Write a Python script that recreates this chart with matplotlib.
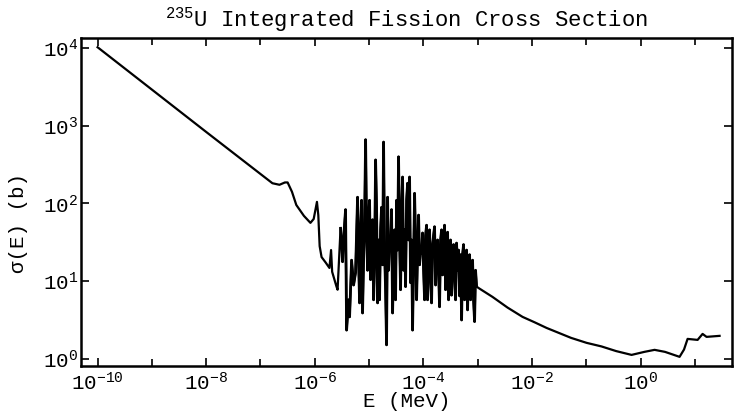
import numpy as np
import matplotlib
matplotlib.use("Agg")
import matplotlib.pyplot as plt
from matplotlib.ticker import FixedLocator, FuncFormatter, NullFormatter

plt.rcParams['font.family'] = ['Liberation Mono', 'DejaVu Sans Mono']
plt.rcParams['mathtext.fontset'] = 'custom'
plt.rcParams['mathtext.rm'] = 'Liberation Mono'
plt.rcParams['mathtext.it'] = 'Liberation Mono:italic'

# log10(E / MeV) and log10(sigma / b)
# thermal / 1/v region
low_log_e = [-10.0, -8.0, -7.0, -6.78, -6.65, -6.55, -6.50, -6.42, -6.34, -6.20,
             -6.08, -6.02, -5.96, -5.935, -5.91, -5.875, -5.80, -5.73, -5.70,
             -5.68, -5.60, -5.58]
low_log_s = [4.01, 2.92, 2.38, 2.26, 2.24, 2.27, 2.27, 2.15, 1.98, 1.84,
             1.75, 1.80, 2.02, 1.85, 1.45, 1.31, 1.24, 1.17, 1.40,
             1.12, 0.93, 0.89]

# resolved resonance region
res_log_e = [-5.525, -5.488, -5.470, -5.433, -5.414, -5.378, -5.359, -5.322, -5.285, -5.249,
             -5.212, -5.193, -5.175, -5.157, -5.138, -5.120, -5.101, -5.083, -5.064, -5.046,
             -5.028, -5.009, -4.991, -4.972, -4.954, -4.936, -4.917, -4.899, -4.880, -4.862,
             -4.843, -4.825, -4.807, -4.788, -4.770, -4.751, -4.733, -4.715, -4.696, -4.678,
             -4.659, -4.641, -4.622, -4.604, -4.586, -4.567, -4.549, -4.530, -4.512, -4.494,
             -4.475, -4.457, -4.438, -4.420, -4.401, -4.383, -4.365, -4.346, -4.328, -4.309,
             -4.291, -4.273, -4.254, -4.236, -4.217, -4.199, -4.180, -4.162, -4.144, -4.125,
             -4.107, -4.088, -4.070, -4.052, -4.033, -4.015, -3.996, -3.978, -3.959, -3.941,
             -3.923, -3.904, -3.886, -3.867, -3.849, -3.831, -3.812, -3.794, -3.775, -3.757,
             -3.738, -3.720, -3.702, -3.683, -3.665, -3.646, -3.628, -3.610, -3.591, -3.573,
             -3.554, -3.536, -3.517, -3.499, -3.481, -3.462, -3.444, -3.425, -3.407, -3.389,
             -3.370, -3.352, -3.333, -3.315, -3.296, -3.278, -3.260, -3.241, -3.223, -3.204,
             -3.186, -3.168, -3.149, -3.131, -3.112, -3.094, -3.076, -3.057, -3.039, -3.020]
res_log_s = [1.68, 1.25, 1.53, 1.92, 0.37, 0.76, 0.54, 1.27, 0.95, 1.11,
             2.08, 1.27, 0.72, 1.66, 2.04, 0.59, 1.27, 1.75, 2.82, 1.66,
             1.14, 1.85, 2.04, 1.02, 1.59, 1.79, 0.76, 1.23, 2.56, 1.95,
             0.72, 1.53, 0.76, 1.66, 1.95, 1.21, 2.79, 1.40, 0.89, 0.18,
             2.08, 1.14, 1.53, 1.44, 1.92, 0.59, 1.27, 1.66, 0.76, 2.04,
             1.40, 2.60, 1.53, 0.89, 1.92, 2.34, 1.14, 1.66, 0.93, 2.04,
             2.26, 1.53, 2.34, 0.98, 1.53, 0.37, 1.27, 2.13, 1.53, 0.76,
             1.36, 1.85, 1.21, 1.40, 1.36, 1.62, 1.14, 0.76, 1.59, 1.72,
             0.76, 1.40, 1.66, 1.02, 0.72, 1.47, 1.59, 1.70, 0.95, 1.40,
             1.53, 1.14, 0.67, 1.53, 1.66, 1.08, 1.40, 1.72, 0.89, 1.34,
             1.63, 0.76, 1.27, 1.53, 0.82, 1.40, 1.47, 1.02, 0.76, 1.49,
             1.14, 1.40, 0.81, 1.34, 0.50, 1.34, 1.47, 0.76, 1.14, 1.40,
             0.63, 1.21, 1.34, 0.76, 1.14, 1.27, 0.76, 0.48, 1.14, 0.93]

# unresolved / fast region
high_log_e = [-2.98, -2.726, -2.45, -2.173, -1.95, -1.731, -1.28, -0.994, -0.72, -0.45,
              -0.166, 0.07, 0.258, 0.45, 0.718, 0.80, 0.866, 1.050, 1.142, 1.215, 1.455]
high_log_s = [0.91, 0.797, 0.66, 0.540, 0.47, 0.398, 0.27, 0.206, 0.16, 0.10,
              0.051, 0.09, 0.116, 0.09, 0.026, 0.12, 0.257, 0.244, 0.321, 0.283, 0.296]

log_e = np.array(low_log_e + res_log_e + high_log_e)
log_s = np.array(low_log_s + res_log_s + high_log_s)
energy = 10.0 ** log_e
sigma = 10.0 ** log_s

fig = plt.figure(figsize=(7.34, 4.12), dpi=100)
ax = fig.add_axes([0.110, 0.112, 0.887, 0.796])

ax.plot(energy, sigma, color='black', lw=1.6)
# the resonance forest prints as a dense dark band
ax.plot(10.0 ** np.array(res_log_e), 10.0 ** np.array(res_log_s), color='black', lw=2.0)

ax.set_xscale('log')
ax.set_yscale('log')
ax.set_xlim(10 ** -10.31, 10 ** 1.68)
ax.set_ylim(10 ** -0.09, 10 ** 4.13)

fmt = FuncFormatter(lambda v, p: r'$\mathdefault{10^{%d}}$' % round(np.log10(v)))
ax.xaxis.set_major_locator(FixedLocator([10.0 ** k for k in range(-10, 1, 2)]))
ax.xaxis.set_minor_locator(FixedLocator([10.0 ** k for k in range(-9, 2, 2)]))
ax.xaxis.set_major_formatter(fmt)
ax.xaxis.set_minor_formatter(NullFormatter())
ax.yaxis.set_major_locator(FixedLocator([10.0 ** k for k in range(0, 5)]))
ax.yaxis.set_minor_locator(FixedLocator([]))
ax.yaxis.set_major_formatter(fmt)

ax.tick_params(which='both', direction='in', top=True, right=True, width=1.2,
               labelsize=15, pad=4)
ax.tick_params(which='major', length=6)
ax.tick_params(which='minor', length=5)
ax.tick_params(axis='y', pad=2)
for s in ax.spines.values():
    s.set_linewidth(1.8)

ax.set_title(r'$^{235}$U Integrated Fission Cross Section', fontsize=16, pad=8)
ax.set_xlabel('E (MeV)', fontsize=15)
ax.set_ylabel('σ(E) (b)', fontsize=15)
ax.xaxis.set_label_coords(0.5, -0.08)
ax.yaxis.set_label_coords(-0.081, 0.436)

fig.savefig('out.png', dpi=100)
